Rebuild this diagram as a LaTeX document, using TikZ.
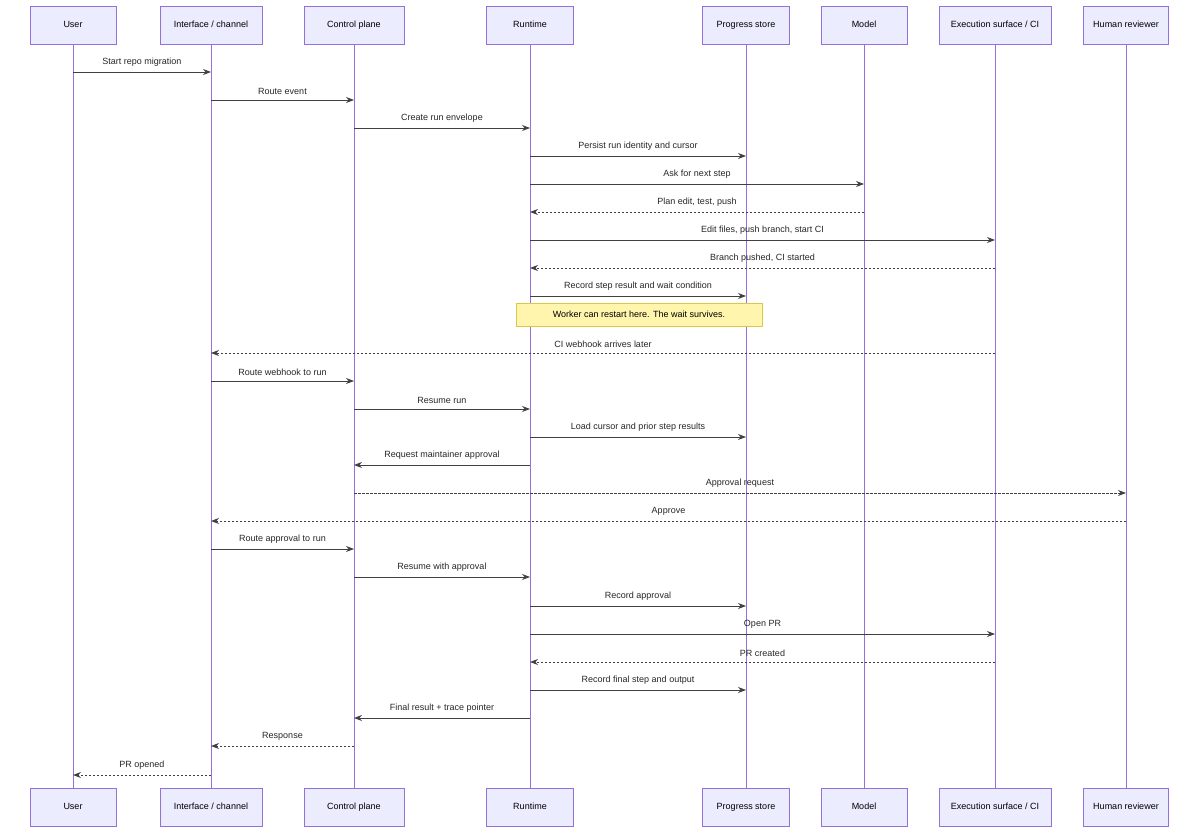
\documentclass[tikz,border=0pt]{standalone}
\usepackage{fontspec}
\setmainfont{Liberation Sans}
\usetikzlibrary{arrows.meta, calc}

\definecolor{boxfill}{HTML}{ECECFF}
\definecolor{boxline}{HTML}{9370DB}
\definecolor{notefill}{HTML}{FFF5AD}
\definecolor{noteline}{HTML}{D9C84A}

\tikzset{
  actor/.style={draw=boxline, fill=boxfill, minimum height=38pt, text height=7pt, text depth=2pt,
    font=\fontsize{9}{11}\selectfont},
  life/.style={draw=boxline, line width=1pt},
  call/.style={draw=black!75, line width=0.9pt, -{Stealth[length=8pt,width=6pt]}},
  reply/.style={call, dashed, dash pattern=on 2.5pt off 1.5pt},
  lbl/.style={font=\fontsize{9}{11}\selectfont, text=black!85, above=2pt}
}

% message: from, to, y (px from top), label, style
\newcommand{\msg}[5]{%
  \path (#1-top |- 0,-#3) coordinate (ms) (#2-top |- 0,-#3) coordinate (me);
  \draw[#5] (ms) -- node[lbl] {#4} (me);
}

\begin{document}
\begin{tikzpicture}[x=1pt,y=1pt]
\useasboundingbox (0,0) rectangle (1200,-832);
% Participants
\foreach \name/\x/\w/\txt in {user/73/86/{User}, iface/211/102/{Interface {/} channel},
    ctrl/354/100/{Control plane}, run/530/87/{Runtime}, store/746/87/{Progress store},
    model/864/86/{Model}, exec/995/112/{Execution surface {/} CI}, human/1126/85/{Human reviewer}} {
  \node[actor, minimum width=\w pt] (\name-top) at (\x,-25) {\txt};
  \node[actor, minimum width=\w pt] (\name-bot) at (\x,-807) {\txt};
  \draw[life] (\name-top) -- (\name-bot);
}
% Note
\node[draw=noteline, fill=notefill, minimum width=246pt, minimum height=23pt,
      font=\fontsize{9}{11}\selectfont] (note) at (639,-314.5)
      {Worker can restart here. The wait survives.};
% Messages
\msg{user}{iface}{72}{Start repo migration}{call}
\msg{iface}{ctrl}{100}{Route event}{call}
\msg{ctrl}{run}{128}{Create run envelope}{call}
\msg{run}{store}{156}{Persist run identity and cursor}{call}
\msg{run}{model}{184}{Ask for next step}{call}
\msg{model}{run}{212}{Plan edit, test, push}{reply}
\msg{run}{exec}{240}{Edit files, push branch, start CI}{call}
\msg{exec}{run}{268}{Branch pushed, CI started}{reply}
\msg{run}{store}{296}{Record step result and wait condition}{call}
\msg{exec}{iface}{353}{CI webhook arrives later}{reply}
\msg{iface}{ctrl}{381}{Route webhook to run}{call}
\msg{ctrl}{run}{409}{Resume run}{call}
\msg{run}{store}{437}{Load cursor and prior step results}{call}
\msg{run}{ctrl}{465}{Request maintainer approval}{call}
\msg{ctrl}{human}{493}{Approval request}{reply}
\msg{human}{iface}{521}{Approve}{reply}
\msg{iface}{ctrl}{549}{Route approval to run}{call}
\msg{ctrl}{run}{577}{Resume with approval}{call}
\msg{run}{store}{606}{Record approval}{call}
\msg{run}{exec}{634}{Open PR}{call}
\msg{exec}{run}{662}{PR created}{reply}
\msg{run}{store}{690}{Record final step and output}{call}
\msg{run}{ctrl}{718}{Final result + trace pointer}{call}
\msg{ctrl}{iface}{746}{Response}{reply}
\msg{iface}{user}{775}{PR opened}{reply}
\end{tikzpicture}
\end{document}
